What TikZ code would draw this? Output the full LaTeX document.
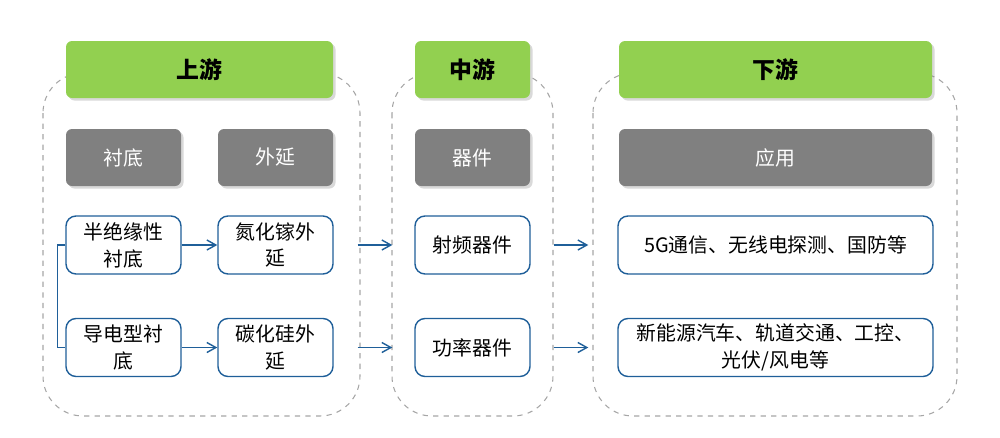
\documentclass[tikz,border=0pt]{standalone}
\usepackage{fontspec}
\setmainfont{Noto Sans CJK SC}
\usetikzlibrary{arrows.meta,shadows}
\definecolor{headgreen}{HTML}{92D050}
\definecolor{catgray}{HTML}{808080}
\definecolor{linkblue}{HTML}{1F5F99}
\definecolor{zonegray}{HTML}{A6A6A6}
\tikzset{
  head/.style={fill=headgreen, rounded corners=0.12cm, minimum height=1.14cm,
    font=\fontsize{13}{16}\selectfont\bfseries,
    drop shadow={shadow xshift=0.05cm, shadow yshift=-0.05cm, opacity=0.3}},
  cat/.style={fill=catgray, text=white, rounded corners=0.12cm, minimum height=1.14cm,
    font=\fontsize{11.3}{15.3}\selectfont,
    drop shadow={shadow xshift=0.05cm, shadow yshift=-0.05cm, opacity=0.3}},
  item/.style={draw=linkblue, line width=0.8pt, fill=white, rounded corners=0.2cm,
    minimum height=1.16cm, align=center, inner sep=1pt,
    font=\fontsize{11.3}{15.3}\selectfont},
  zone/.style={draw=zonegray, dashed, line width=0.6pt, rounded corners=0.8cm},
  link/.style={draw=linkblue, line width=0.8pt, -{Straight Barb[length=1.8mm,width=2mm]}}
}
\begin{document}
\begin{tikzpicture}
    \useasboundingbox (0,0) rectangle (20,-8.74);
    \draw [zone] (0.86,-1.46) rectangle (7.2,-8.32);
    \draw [zone] (7.84,-1.46) rectangle (11.06,-8.32);
    \draw [zone] (11.86,-1.46) rectangle (19.14,-8.32);
    \node [head, minimum width=5.34cm] (up) at (3.99,-1.39) {上游};
    \node [head, minimum width=2.3cm] (mid) at (9.45,-1.39) {中游};
    \node [head, minimum width=6.26cm] (down) at (15.51,-1.39) {下游};
    \node [cat, minimum width=2.3cm] (sub) at (2.47,-3.15) {衬底};
    \node [cat, minimum width=2.3cm] (epi) at (5.51,-3.15) {外延};
    \node [cat, minimum width=2.3cm] (dev) at (9.45,-3.15) {器件};
    \node [cat, minimum width=6.26cm] (app) at (15.51,-3.15) {应用};
    \node [item, minimum width=2.3cm] (semi) at (2.47,-4.9) {半绝缘性\\衬底};
    \node [item, minimum width=2.3cm] (cond) at (2.47,-6.95) {导电型衬\\底};
    \node [item, minimum width=2.3cm] (gan) at (5.51,-4.9) {氮化镓外\\延};
    \node [item, minimum width=2.3cm] (sic) at (5.51,-6.95) {碳化硅外\\延};
    \node [item, minimum width=2.3cm] (rf) at (9.45,-4.9) {射频器件};
    \node [item, minimum width=2.3cm] (pwr) at (9.45,-6.95) {功率器件};
    \node [item, minimum width=6.3cm] (tel) at (15.51,-4.9) {5G通信、无线电探测、国防等};
    \node [item, minimum width=6.3cm] (ev) at (15.51,-6.95) {新能源汽车、轨道交通、工控、\\光伏/风电等};
    \draw [draw=linkblue, line width=0.8pt] (semi.west) -- ++(-0.16,0) |- (cond.west);
    \draw [link] (semi) -- (gan);
    \draw [link] (cond) -- (sic);
    \draw [link] ([xshift=0.48cm]gan.east) -- ([xshift=-0.44cm]rf.west);
    \draw [link] ([xshift=0.48cm]sic.east) -- ([xshift=-0.44cm]pwr.west);
    \draw [link] ([xshift=0.46cm]rf.east) -- ([xshift=-0.58cm]tel.west);
    \draw [link] ([xshift=0.46cm]pwr.east) -- ([xshift=-0.58cm]ev.west);
\end{tikzpicture}
\end{document}
